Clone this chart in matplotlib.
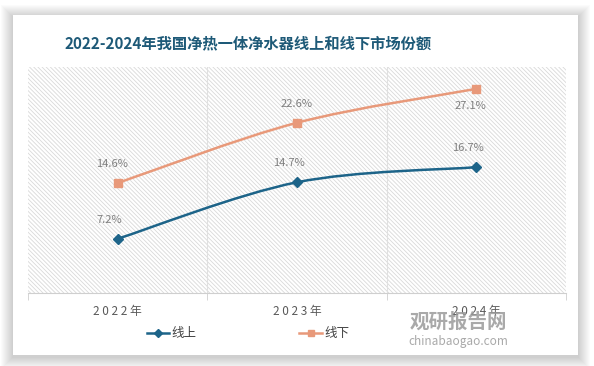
import matplotlib
matplotlib.use("Agg")
import matplotlib.pyplot as plt
import numpy as np
from matplotlib.path import Path
from matplotlib.patches import PathPatch, Rectangle
from matplotlib.lines import Line2D

plt.rcParams['font.family'] = ['Noto Sans CJK SC', 'DejaVu Sans']
plt.rcParams['hatch.linewidth'] = 0.6

# data
years = ["2022年", "2023年", "2024年"]
online = [7.2, 14.7, 16.7]
offline = [14.6, 22.6, 27.1]
series_names = ["线上", "线下"]

blue = "#1d6489"
orange = "#e8997a"


def smooth_path(xs, ys):
    # Catmull-Rom style bezier through the points (like Excel smoothed lines)
    pts = np.column_stack([xs, ys]).astype(float)
    verts = [pts[0]]
    codes = [Path.MOVETO]
    n = len(pts)
    for i in range(n - 1):
        p0 = pts[i - 1] if i > 0 else pts[i]
        p1 = pts[i]
        p2 = pts[i + 1]
        p3 = pts[i + 2] if i + 2 < n else pts[i + 1]
        c1 = p1 + (p2 - p0) / 6.0
        c2 = p2 - (p3 - p1) / 6.0
        verts += [c1, c2, p2]
        codes += [Path.CURVE4] * 3
    return Path(verts, codes)


fig = plt.figure(figsize=(5.94, 3.66), dpi=100)
fig.patch.set_facecolor("white")

# card with soft shadow
W, H = 594, 366
for k in range(12, 0, -1):
    fig.patches.append(Rectangle(((13 - k) / W, 1 - (357 + k) / H), (565 + 2 * k) / W, (340 + 2 * k) / H,
                                 transform=fig.transFigure, facecolor="#000000", alpha=0.014,
                                 edgecolor="none", zorder=0))
fig.patches.append(Rectangle((13 / W, 1 - 355 / H), 565 / W, 340 / H, transform=fig.transFigure,
                             facecolor="white", edgecolor="none", zorder=1))

ax = fig.add_axes([28 / W, 1 - 293 / H, 538 / W, 226 / H])
ax.set_facecolor("none")
ax.set_zorder(2)

# hatched plot background
ax.add_patch(Rectangle((0, 0), 1, 1, transform=ax.transAxes, facecolor="white",
                       edgecolor="#d9d9d9", hatch="\\\\\\\\\\\\\\\\", linewidth=0, zorder=0))

x = np.arange(len(years))
ax.add_patch(PathPatch(smooth_path(x, online), facecolor="none", edgecolor=blue, lw=1.8, zorder=3))
ax.add_patch(PathPatch(smooth_path(x, offline), facecolor="none", edgecolor=orange, lw=1.8, zorder=3))
ax.plot(x, online, linestyle="none", marker="D", markersize=5.5, color=blue, zorder=4)
ax.plot(x, offline, linestyle="none", marker="s", markersize=6, color=orange, zorder=4)

for i, v in enumerate(online):
    ax.annotate(f"{v}%", (x[i], v), xytext=(-6, 10), textcoords="offset points",
                ha="center", va="bottom", fontsize=8, color="#7f7f7f")
for i, v in enumerate(offline):
    if i == 2:
        ax.annotate(f"{v}%", (x[i], v), xytext=(-4, -9), textcoords="offset points",
                    ha="center", va="top", fontsize=8, color="#7f7f7f")
    else:
        ax.annotate(f"{v}%", (x[i], v), xytext=(-4 if i == 0 else 0, 10), textcoords="offset points",
                    ha="center", va="bottom", fontsize=8, color="#7f7f7f")

ax.set_xlim(-0.5, 2.5)
ax.set_ylim(0, 30)
ax.set_yticks([])
for s in ["left", "right", "top"]:
    ax.spines[s].set_visible(False)
ax.spines["bottom"].set_color("#cfcfcf")
ax.set_xticks(x)
ax.set_xticklabels([" ".join(y[:4]) + " " + y[4] for y in years], fontsize=8.5, color="#595959")
ax.tick_params(axis="x", which="major", length=0, pad=9)
ax.set_xticks([-0.5, 0.5, 1.5, 2.5], minor=True)
ax.tick_params(axis="x", which="minor", length=5, color="#cfcfcf")
for b in [0.5, 1.5]:
    ax.axvline(b, color="#e0e0e0", lw=0.8, zorder=1)

# title
fig.text(248 / W, 1 - 43 / H, "2022-2024年我国净热一体净水器线上和线下市场份额", ha="center", va="center",
         fontsize=11, fontweight="bold", color="#1e5a78")

# legend
handles = [Line2D([], [], color=blue, marker="D", markersize=4, lw=1.8),
           Line2D([], [], color=orange, marker="s", markersize=5, lw=1.8)]
fig.legend(handles, series_names, loc="center", bbox_to_anchor=(248 / W, 1 - 334 / H), ncol=2,
           frameon=False, fontsize=9, handlelength=1.8, columnspacing=8.2, handletextpad=0.2,
           labelcolor="#404040")

# watermark
fig.text(458 / W, 1 - 322 / H, "观研报告网", fontsize=14, fontweight="bold", color="#9a9a9a", alpha=0.85,
         ha="center", va="center", zorder=5)
fig.text(458 / W, 1 - 342 / H, "chinabaogao.com", fontsize=8.5, color="#9a9a9a", alpha=0.85,
         ha="center", va="center", zorder=5)

fig.savefig("out.png", dpi=100)
